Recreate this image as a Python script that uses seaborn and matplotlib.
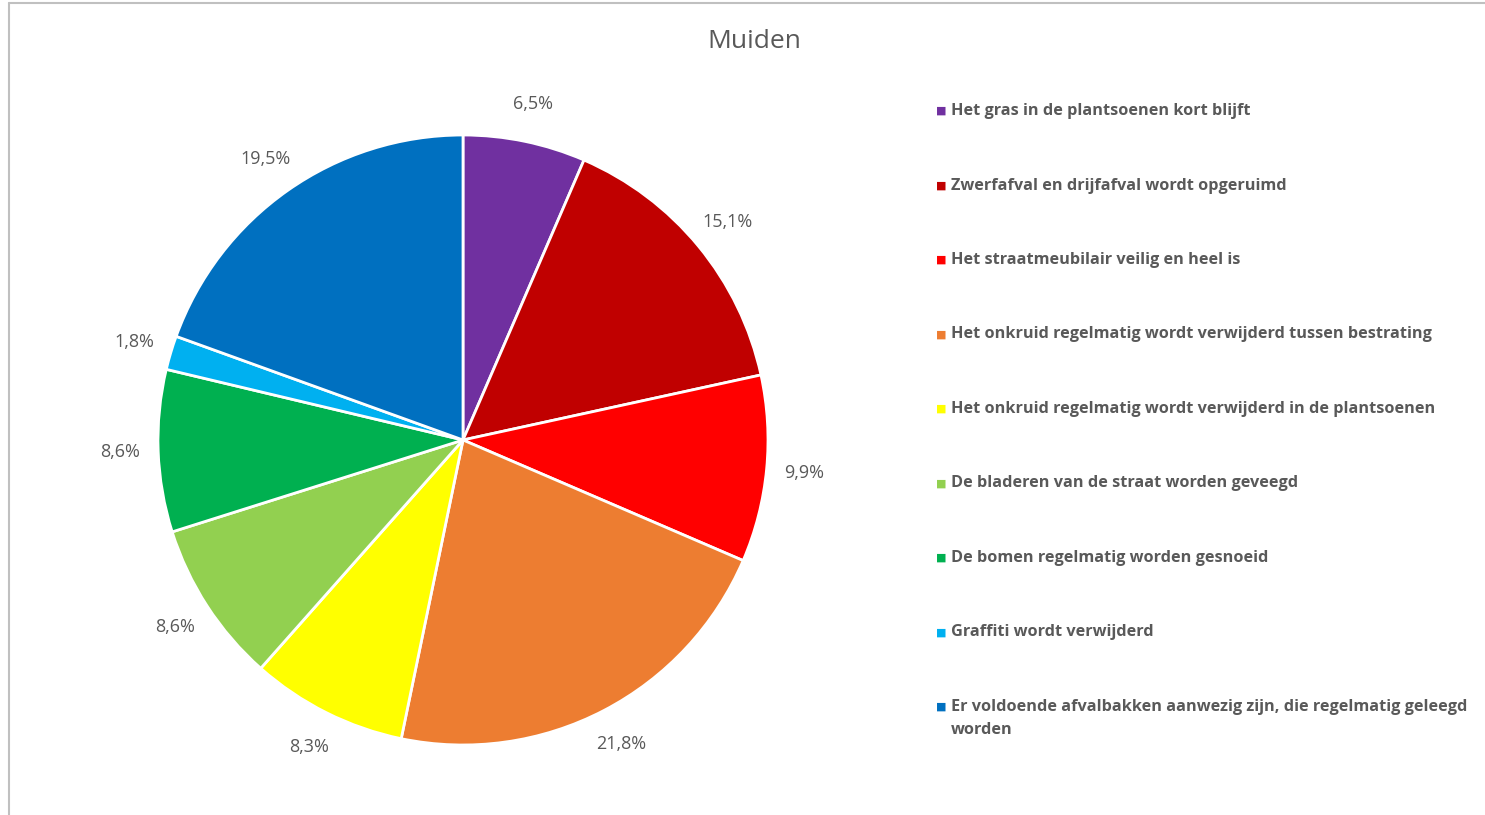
import matplotlib
matplotlib.use("Agg")
import matplotlib.pyplot as plt
import seaborn as sns

# Data
categories = [
    "Het gras in de plantsoenen kort blijft",
    "Zwerfafval en drijfafval wordt opgeruimd",
    "Het straatmeubilair veilig en heel is",
    "Het onkruid regelmatig wordt verwijderd tussen bestrating",
    "Het onkruid regelmatig wordt verwijderd in de plantsoenen",
    "De bladeren van de straat worden geveegd",
    "De bomen regelmatig worden gesnoeid",
    "Graffiti wordt verwijderd",
    "Er voldoende afvalbakken aanwezig zijn, die regelmatig geleegd\nworden",
]
values = [6.5, 15.1, 9.9, 21.8, 8.3, 8.6, 8.6, 1.8, 19.5]
colors = ["#7030A0", "#C00000", "#FF0000", "#ED7D31", "#FFFF00",
          "#92D050", "#00B050", "#00B0F0", "#0070C0"]

sns.set_theme(style="white")
plt.rcParams["font.family"] = ["Open Sans", "DejaVu Sans"]
text_color = "#595959"

fig = plt.figure(figsize=(14.85, 8.15), dpi=100)

# Pie
cx, cy, r = 463, 440, 305
W, H = 1485, 815
ax = fig.add_axes([(cx - r) / W, (H - cy - r) / H, 2 * r / W, 2 * r / H])

pct_labels = [f"{v:.1f}%".replace(".", ",") for v in values]
wedges, texts = ax.pie(
    values,
    labels=pct_labels,
    colors=colors,
    startangle=90,
    counterclock=False,
    labeldistance=1.125,
    wedgeprops=dict(edgecolor="white", linewidth=2),
    textprops=dict(color=text_color, fontsize=13),
)
for t in texts:
    t.set_horizontalalignment("center")
    t.set_verticalalignment("center")
ax.set_xlim(-1, 1)
ax.set_ylim(-1, 1)
ax.set_aspect("equal")
ax.axis("off")

# Title
fig.text(754 / W, 1 - 42 / H, "Muiden", ha="center", va="center",
         fontsize=19, color=text_color)

# Legend
y0 = 111
step = 74.5
for i, (name, col) in enumerate(zip(categories, colors)):
    y = 1 - (y0 + i * step) / H
    fig.text(941 / W, y, "■", color=col, fontsize=8, ha="center", va="center",
             family=["DejaVu Sans"])
    fig.text(951 / W, 1 - (y0 + i * step - 8) / H, name, color=text_color,
             fontsize=11.7, fontweight="bold", ha="left", va="top",
             linespacing=1.6)

# Frame lines
fig.add_artist(plt.Line2D([9 / W, 9 / W], [0, 1 - 3 / H], color="#C0C0C0",
                          linewidth=1.5, transform=fig.transFigure))
fig.add_artist(plt.Line2D([9 / W, 1], [1 - 3 / H, 1 - 3 / H], color="#C0C0C0",
                          linewidth=1.5, transform=fig.transFigure))

fig.savefig("out.png", dpi=100)
